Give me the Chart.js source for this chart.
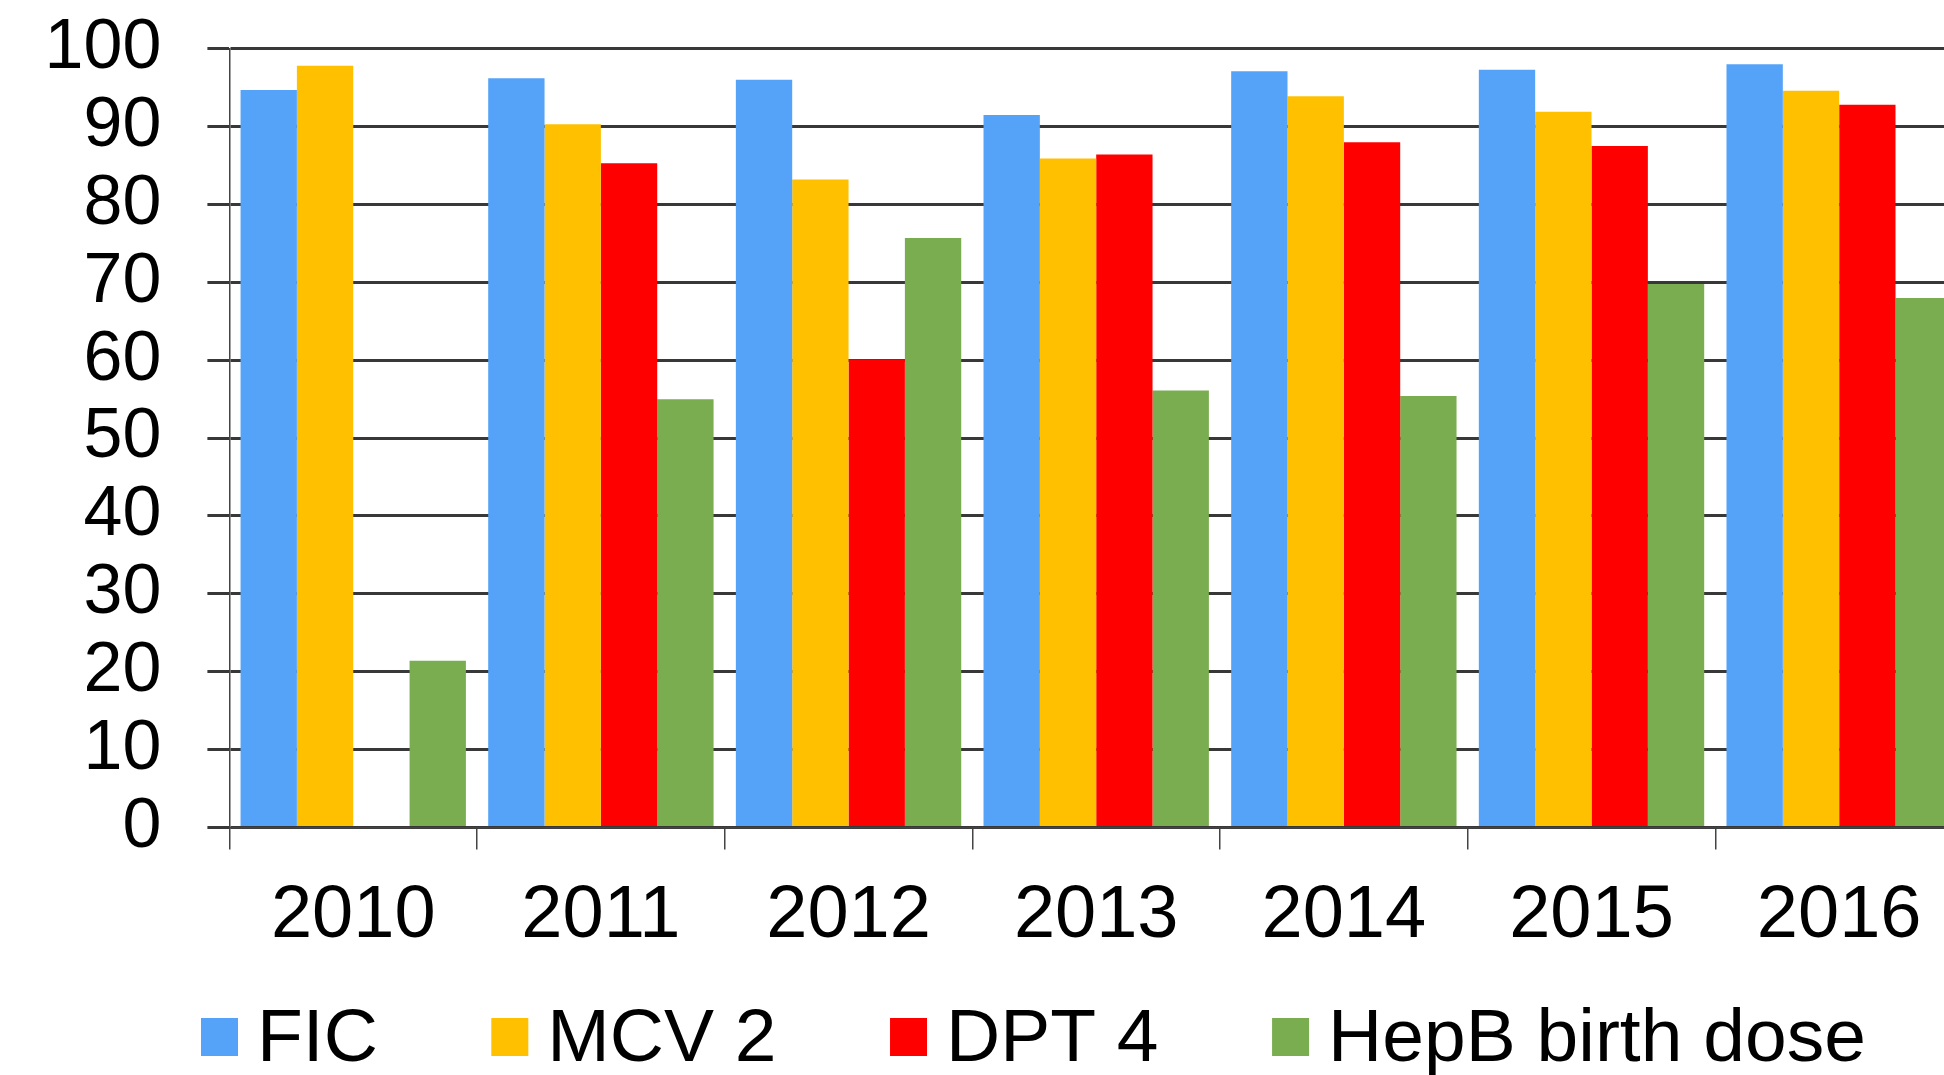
<!DOCTYPE html>
<html>
<head>
<meta charset="utf-8">
<script src="https://cdn.jsdelivr.net/npm/chart.js@4.4.1/dist/chart.umd.min.js"></script>
<style>
  html, body { margin: 0; padding: 0; background: #ffffff; overflow: hidden; }
  #wrap { position: absolute; left: 0; top: 0; width: 1963px; height: 1075px; }
</style>
</head>
<body>
<div id="wrap"><canvas id="c"></canvas></div>
<script>
const categories = ['2010', '2011', '2012', '2013', '2014', '2015', '2016'];
const seriesNames = ['FIC', 'MCV 2', 'DPT 4', 'HepB birth dose'];
const fic  = [94.7, 96.2, 96.0, 91.5, 97.1, 97.3, 98.0];
const mcv2 = [97.8, 90.3, 83.2, 85.9, 93.9, 91.9, 94.6];
const dpt4 = [null, 85.3, 60.1, 86.4, 88.0, 87.5, 92.8];
const hepb = [21.4, 55.0, 75.7, 56.1, 55.4, 69.8, 68.0];
const yTicks = [0, 10, 20, 30, 40, 50, 60, 70, 80, 90, 100];

const colors = ['#55A3F9', '#FFC000', '#FF0000', '#7AAD50'];
const FONT = "'Liberation Sans', Arial, sans-serif";

const ds = [fic, mcv2, dpt4, hepb].map((d, i) => ({
  label: seriesNames[i],
  data: d,
  backgroundColor: colors[i],
  borderWidth: 0,
  barPercentage: 1.0,
  categoryPercentage: 0.91
}));

// Legend drawn on the canvas, one row below the axis
const rowLegend = {
  id: 'rowLegend',
  afterDraw(chart) {
    const ctx = chart.ctx;
    const fontSize = 75;
    const box = 37, boxH = 38, textGap = 19, itemGap = 113.5;
    const boxTop = 1018, baseline = 1061;
    let x = 201;
    ctx.save();
    ctx.font = fontSize + 'px ' + FONT;
    ctx.textBaseline = 'alphabetic';
    ctx.textAlign = 'left';
    chart.data.datasets.forEach((d) => {
      ctx.fillStyle = d.backgroundColor;
      ctx.fillRect(x, boxTop, box, boxH);
      ctx.fillStyle = '#000000';
      const tx = x + box + textGap;
      ctx.fillText(d.label, tx, baseline);
      x = tx + ctx.measureText(d.label).width + itemGap;
    });
    ctx.restore();
  }
};

new Chart(document.getElementById('c'), {
  type: 'bar',
  data: { labels: categories, datasets: ds },
  plugins: [rowLegend],
  options: {
    responsive: true,
    maintainAspectRatio: false,
    animation: false,
    layout: { padding: { left: 0, top: 48.7, right: 0, bottom: 90.7 } },
    plugins: {
      title: { display: false },
      tooltip: { enabled: false },
      legend: { display: false }
    },
    scales: {
      x: {
        offset: true,
        grid: {
          offset: true,
          drawOnChartArea: false,
          drawTicks: true,
          tickLength: 22,
          color: '#444444',
          lineWidth: 1.5
        },
        border: { display: true, color: '#444444', width: 1.5 },
        ticks: {
          font: { family: FONT, size: 74 },
          color: '#000000',
          padding: 23,
          maxRotation: 0,
          autoSkip: false
        },
        afterFit: (scale) => { scale.paddingLeft = 0; scale.paddingRight = 0; }
      },
      y: {
        min: 0,
        max: 100,
        afterBuildTicks: (scale) => { scale.ticks = yTicks.map(v => ({ value: v })); },
        afterFit: (scale) => { scale.width = 229.4; scale.paddingTop = 0; scale.paddingBottom = 0; },
        grid: {
          drawTicks: true,
          tickLength: 22,
          color: '#383838',
          lineWidth: 3
        },
        border: { display: true, color: '#444444', width: 1.5 },
        ticks: {
          font: { family: FONT, size: 70 },
          color: '#000000',
          padding: 46,
          autoSkip: false
        }
      }
    }
  }
});
</script>
</body>
</html>
